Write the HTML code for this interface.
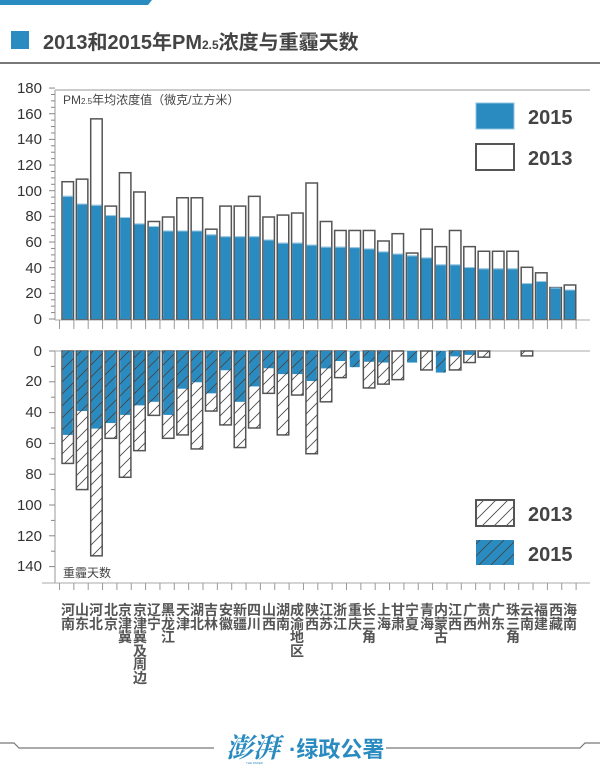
<!DOCTYPE html>
<html><head><meta charset="utf-8"><style>
body{margin:0;background:#fff;}
#w{position:relative;width:600px;height:780px;overflow:hidden;font-family:"Liberation Sans","Noto Sans CJK SC",sans-serif;}
.lb{position:absolute;top:604px;width:14px;font-size:14px;line-height:13.6px;font-weight:bold;color:#555;text-align:center;}
</style></head><body><div id="w">
<svg width="600" height="780" style="position:absolute;left:0;top:0">
<defs>
<pattern id="h" patternUnits="userSpaceOnUse" width="12" height="12" patternTransform="rotate(0)">
<path d="M-3,15 L15,-3 M-3,3 L3,-3 M9,15 L15,9" stroke="#444" stroke-width="0.8"/>
</pattern>
</defs>
<polygon points="0,0 152,0 148,5 0,5" fill="#2a8bc0"/>
<rect x="11" y="31" width="18" height="18" fill="#2a8bc0"/>
<text x="43" y="49" font-size="20" font-weight="bold" fill="#444" font-family="Liberation Sans,Noto Sans CJK SC,sans-serif">2013和2015年PM<tspan font-size="12">2.5</tspan>浓度与重霾天数</text>
<rect x="0" y="62" width="600" height="2" fill="#777"/>
<line x1="55" y1="90" x2="590" y2="90" stroke="#bbb" stroke-width="1.5"/>
<line x1="55" y1="90" x2="55" y2="320" stroke="#bbb" stroke-width="1.5"/>
<line x1="55" y1="320" x2="590" y2="320" stroke="#aaa" stroke-width="1"/>
<line x1="55" y1="351" x2="590" y2="351" stroke="#aaa" stroke-width="1"/>
<line x1="55" y1="351" x2="55" y2="583" stroke="#bbb" stroke-width="1.5"/>
<line x1="42" y1="583" x2="590" y2="583" stroke="#aaa" stroke-width="1"/>
<g id="bars"></g>
<g font-size="15" fill="#333" text-anchor="end">
<text x="42" y="324">0</text><text x="42" y="298">20</text><text x="42" y="273">40</text><text x="42" y="247">60</text><text x="42" y="221">80</text><text x="42" y="196">100</text><text x="42" y="170">120</text><text x="42" y="144">140</text><text x="42" y="119">160</text><text x="42" y="93">180</text>
<text x="42" y="356">0</text><text x="42" y="386">20</text><text x="42" y="417">40</text><text x="42" y="448">60</text><text x="42" y="479">80</text><text x="42" y="510">100</text><text x="42" y="541">120</text><text x="42" y="571">140</text>
</g>
<text x="63" y="104" font-size="12" fill="#444">PM<tspan font-size="8">2.5</tspan>年均浓度值（微克/立方米）</text>
<text x="63" y="577" font-size="12" fill="#444">重霾天数</text>
<rect x="476" y="103" width="38" height="26" fill="#2a8bc0" stroke="#8cc3e0" stroke-width="1"/>
<text x="528" y="124" font-size="20" font-weight="bold" fill="#444">2015</text>
<rect x="476" y="144" width="38" height="26" fill="#fff" stroke="#555" stroke-width="2"/>
<text x="528" y="165" font-size="20" font-weight="bold" fill="#444">2013</text>
<rect x="476" y="500" width="38" height="26" fill="url(#h)" stroke="#555" stroke-width="2"/>
<text x="528" y="521" font-size="20" font-weight="bold" fill="#444">2013</text>
<rect x="476" y="540" width="38" height="25" fill="#2a8bc0"/>
<rect x="476" y="540" width="38" height="25" fill="url(#h)"/>
<text x="528" y="561" font-size="20" font-weight="bold" fill="#444">2015</text>
<polyline points="0,743 14,743 19,748 214,748" fill="none" stroke="#777" stroke-width="1.2"/>
<polyline points="386,748 580,748 585,743 600,743" fill="none" stroke="#777" stroke-width="1.2"/>
<text x="226" y="757" font-size="27" font-weight="bold" font-style="italic" fill="#2a8bc0" font-family="Liberation Serif,Noto Serif CJK SC,serif">澎湃</text>
<text x="246" y="764" font-size="3" fill="#2a8bc0">THE PAPER</text>
<text x="289" y="757" font-size="22" font-weight="bold" fill="#2a8bc0">·绿政公署</text>
</svg>
<div class="lb" style="left:61px">河南</div><div class="lb" style="left:75px">山东</div><div class="lb" style="left:89px">河北</div><div class="lb" style="left:104px">北京</div><div class="lb" style="left:118px">京津冀</div><div class="lb" style="left:133px">京津冀及周边</div><div class="lb" style="left:147px">辽宁</div><div class="lb" style="left:161px">黑龙江</div><div class="lb" style="left:176px">天津</div><div class="lb" style="left:190px">湖北</div><div class="lb" style="left:204px">吉林</div><div class="lb" style="left:219px">安徽</div><div class="lb" style="left:233px">新疆</div><div class="lb" style="left:247px">四川</div><div class="lb" style="left:262px">山西</div><div class="lb" style="left:276px">湖南</div><div class="lb" style="left:290px">成渝地区</div><div class="lb" style="left:305px">陕西</div><div class="lb" style="left:319px">江苏</div><div class="lb" style="left:333px">浙江</div><div class="lb" style="left:348px">重庆</div><div class="lb" style="left:362px">长三角</div><div class="lb" style="left:377px">上海</div><div class="lb" style="left:391px">甘肃</div><div class="lb" style="left:405px">宁夏</div><div class="lb" style="left:420px">青海</div><div class="lb" style="left:434px">内蒙古</div><div class="lb" style="left:448px">江西</div><div class="lb" style="left:463px">广西</div><div class="lb" style="left:477px">贵州</div><div class="lb" style="left:491px">广东</div><div class="lb" style="left:506px">珠三角</div><div class="lb" style="left:520px">云南</div><div class="lb" style="left:534px">福建</div><div class="lb" style="left:549px">西藏</div><div class="lb" style="left:563px">海南</div>
</div>
<script>
var t13=[107,109,156,88,114,99,76,79.5,94.5,94.5,70,88,88,95.6,79.5,81,82.6,106,76,69,69,69,60.8,66.5,51.4,70,56.4,69,56.4,52.8,52.8,52.8,40.3,36,24.5,26.5];
var t15=[96,90,89,81,79.5,74.5,72.5,69,69,69,66,64.5,64.5,64.5,62,59.5,59.5,58,56.4,56.4,56,55,52.7,51,49.6,48,42.6,42.6,40.5,39.5,39.5,39.5,28,29.6,24.5,23];
var b15=[54.5,39,50.4,46.8,41.5,35.3,33,41.5,24.5,20.3,27.5,12.5,33,23,11.2,15,15,19.5,11.3,6.5,10.5,7,7.5,0,7.5,0,14,3.5,2.5,0,0,0,0,0,0,0];
var b13=[73,90,133,56.7,82,64.7,41.8,56.7,54.5,63.6,39,48,62.7,50,27.5,54.5,28.6,66.7,33,17.3,10.5,24,21.5,18.6,7.5,12.3,14,12.3,7.5,4,0,0,3.2,0,0,0];
var s='',W=11.5;
function r(x,y,w,h,a){return '<rect x="'+x+'" y="'+y+'" width="'+w+'" height="'+h+'" '+a+'/>';}
for(var i=0;i<36;i++){
 var x=62+i*14.35;
 var y13=319-t13[i]*1.283,y15=319-t15[i]*1.283;
 s+=r(x,y13,W,319-y13,'fill="#fff" stroke="#555" stroke-width="1.5"');
 s+=r(x+0.75,y15,W-1.5,319-y15,'fill="#2a8bc0"');
 s+=r(x+0.75,y15,W-1.5,1,'fill="#9fcbe5"');
 if(b13[i]>b15[i]){var h=b13[i]*1.54;s+=r(x,351,W,h,'fill="#fff" stroke="#555" stroke-width="1.5"');s+=r(x,351,W,h,'fill="url(#h)"');}
 if(b15[i]>0){var h2=b15[i]*1.54;s+=r(x+0.75,351,W-1.5,h2,'fill="#2a8bc0"');s+=r(x+0.75,351,W-1.5,h2,'fill="url(#h)"');}
}
for(var v=0;v<=180;v+=5){var y=319-v*1.283;s+='<line x1="'+(v%20==0?49:51)+'" y1="'+y+'" x2="55" y2="'+y+'" stroke="#888" stroke-width="1"/>';}
for(var v=0;v<=140;v+=10){var y=351+v*1.54;s+='<line x1="'+(v%20==0?49:51)+'" y1="'+y+'" x2="55" y2="'+y+'" stroke="#888" stroke-width="1"/>';}
for(var i=0;i<=36;i++){var x=59.5+i*14.35;s+='<line x1="'+x+'" y1="320" x2="'+x+'" y2="329" stroke="#999"/><line x1="'+x+'" y1="583" x2="'+x+'" y2="590" stroke="#999"/>';}
document.getElementById('bars').innerHTML=s;
</script>
</body></html>
